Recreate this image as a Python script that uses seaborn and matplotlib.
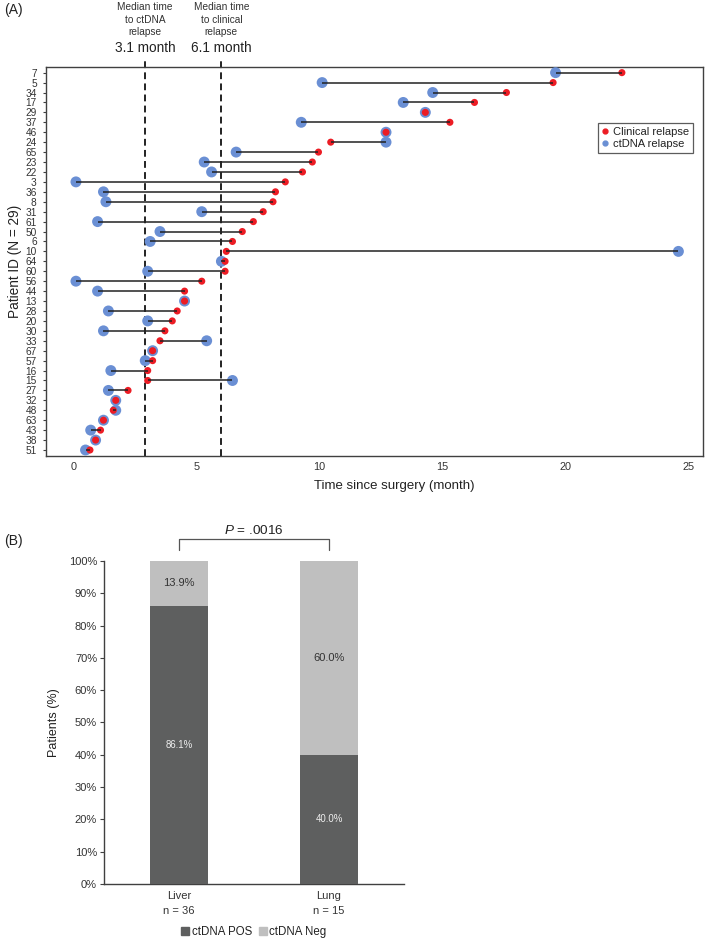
import numpy as np
import pandas as pd
import matplotlib
matplotlib.use("Agg")
import matplotlib.pyplot as plt
from matplotlib.lines import Line2D
from matplotlib.patches import Patch
import seaborn as sns

# ---- data (A): patient swimmer / dumbbell ----
patients = ["7", "5", "34", "17", "29", "37", "46", "24", "65", "23", "22", "3", "36",
            "8", "31", "61", "50", "6", "10", "64", "60", "56", "44", "13", "28", "20",
            "30", "33", "67", "57", "16", "15", "27", "32", "48", "63", "43", "38", "51"]
ctdna_month = [19.6, 10.1, 14.6, 13.4, 14.3, 9.25, 12.7, 12.7, 6.6, 5.3, 5.6, 0.08, 1.2,
               1.3, 5.2, 0.96, 3.5, 3.1, 24.6, 6.0, 3.0, 0.08, 0.96, 4.5, 1.4, 3.0,
               1.2, 5.4, 3.2, 2.9, 1.5, 6.45, 1.4, 1.7, 1.7, 1.2, 0.68, 0.88, 0.47]
clinical_month = [22.3, 19.5, 17.6, 16.3, 14.3, 15.3, 12.7, 10.45, 9.95, 9.7, 9.3, 8.6, 8.2,
                  8.1, 7.7, 7.3, 6.85, 6.45, 6.2, 6.15, 6.15, 5.2, 4.5, 4.5, 4.2, 4.0,
                  3.7, 3.5, 3.2, 3.2, 3.0, 3.0, 2.2, 1.7, 1.6, 1.2, 1.08, 0.88, 0.65]
median_ctdna_line = 2.9
median_clinical_line = 6.0
median_labels = [("Median time\nto ctDNA\nrelapse", "3.1 month"),
                 ("Median time\nto clinical\nrelapse", "6.1 month")]

# ---- data (B): stacked bars ----
sites = ["Liver\nn = 36", "Lung\nn = 15"]
ctdna_pos = [86.1, 40.0]
ctdna_neg = [13.9, 60.0]
p_text = "$P$ = .0016"

BLUE = "#6a8fd4"
RED = "#ec1c24"
DARK = "#5e5f5f"
LIGHT = "#bfbfbf"
AXC = "#404040"

sns.set_theme(style="white")
plt.rcParams["font.family"] = ["Liberation Sans", "DejaVu Sans"]
plt.rcParams["mathtext.fontset"] = "custom"
plt.rcParams["mathtext.it"] = "Liberation Sans:italic"
plt.rcParams["mathtext.rm"] = "Liberation Sans"
plt.rcParams["text.color"] = "#222222"

fig = plt.figure(figsize=(7.09, 9.38), dpi=100)

# ================= panel A =================
ax1 = fig.add_axes([0.0645, 0.5139, 0.927, 0.415])
df = pd.DataFrame({"patient": patients, "ctdna": ctdna_month, "clinical": clinical_month})
df["pos"] = np.arange(len(df))

sns.scatterplot(data=df, x="ctdna", y="pos", color=BLUE, s=62, edgecolor="none",
                ax=ax1, zorder=3, legend=False)
sns.scatterplot(data=df, x="clinical", y="pos", color=RED, s=26, edgecolor="none",
                ax=ax1, zorder=4, legend=False)
ax1.hlines(df["pos"], df["ctdna"], df["clinical"], color="#222222", lw=1.1, zorder=5)

for xv, (lab, med) in zip([median_ctdna_line, median_clinical_line], median_labels):
    ax1.axvline(xv, ymin=0, ymax=1.025, color="#222222", lw=1.4, ls=(0, (3.5, 2.2)),
                clip_on=False, zorder=2)
    tr = ax1.get_xaxis_transform()
    ax1.text(xv, 1.075, lab, transform=tr, ha="center", va="bottom", fontsize=7.3,
             linespacing=1.35, color="#333333")
    ax1.text(xv, 1.049, med, transform=tr, ha="center", va="center", fontsize=9.8,
             color="#222222")

ax1.set_xlim(-1.15, 25.6)
ax1.set_ylim(38.6, -0.6)
ax1.set_yticks(df["pos"])
ax1.set_yticklabels(patients)
ax1.set_xticks([0, 5, 10, 15, 20, 25])
ax1.tick_params(axis="y", which="both", left=True, length=2.5, width=0.8, color=AXC,
                labelsize=7.3, pad=4, labelcolor="#333333")
ax1.tick_params(axis="x", bottom=False, length=0, labelsize=7.8, pad=4,
                labelcolor="#333333")
for sp in ax1.spines.values():
    sp.set_color(AXC)
    sp.set_linewidth(1.0)
ax1.set_xlabel("Time since surgery (month)", fontsize=9.5, color="#222222", labelpad=4)
ax1.xaxis.set_label_coords(0.531, -0.062)
ax1.set_ylabel("Patient ID (N = 29)", fontsize=9.8, color="#222222", labelpad=2)

leg_handles = [Line2D([0], [0], marker="o", ls="none", color=RED, markersize=3.5,
                      label="Clinical relapse"),
               Line2D([0], [0], marker="o", ls="none", color=BLUE, markersize=3.5,
                      label="ctDNA relapse")]
leg = ax1.legend(handles=leg_handles, loc="upper right", bbox_to_anchor=(0.985, 0.855),
                 fontsize=8, frameon=True, fancybox=False, handlelength=0.6,
                 handletextpad=0.4, borderpad=0.35, labelspacing=0.15, borderaxespad=0)
leg.get_frame().set_edgecolor("#333333")
leg.get_frame().set_linewidth(0.9)

# ================= panel B =================
ax2 = fig.add_axes([0.1467, 0.0576, 0.4231, 0.3443])
bdf = pd.DataFrame({"site": sites, "pos": ctdna_pos, "neg": ctdna_neg})
bdf["total"] = bdf["pos"] + bdf["neg"]
sns.barplot(data=bdf, x="site", y="total", color=LIGHT, saturation=1, width=0.39,
            errorbar=None, linewidth=0, ax=ax2, zorder=2)
sns.barplot(data=bdf, x="site", y="pos", color=DARK, saturation=1, width=0.39,
            errorbar=None, linewidth=0, ax=ax2, zorder=3)

for i, row in bdf.iterrows():
    ax2.text(i, row["pos"] / 2, f"{row['pos']:.1f}%", ha="center", va="center",
             fontsize=6.9, color="#eeeeee", zorder=4)
    ax2.text(i, row["pos"] + row["neg"] / 2, f"{row['neg']:.1f}%", ha="center",
             va="center", fontsize=8, color="#333333", zorder=4)

ax2.set_xlim(-0.5, 1.5)
ax2.set_ylim(0, 100)
ax2.set_yticks(np.arange(0, 101, 10))
ax2.set_yticklabels([f"{v}%" for v in range(0, 101, 10)])
ax2.tick_params(axis="y", left=True, length=3, width=0.8, color=AXC, labelsize=8,
                pad=2, labelcolor="#333333")
ax2.tick_params(axis="x", bottom=False, length=0, labelsize=8, pad=5,
                labelcolor="#333333")
for t in ax2.get_xticklabels():
    t.set_linespacing(1.65)
ax2.set_xlabel("")
ax2.set_ylabel("Patients (%)", fontsize=9, color="#222222", labelpad=6)
sns.despine(ax=ax2)
for sp in ["left", "bottom"]:
    ax2.spines[sp].set_color(AXC)
    ax2.spines[sp].set_linewidth(1.0)

# significance bracket
ax2.plot([0, 0, 1, 1], [1.034, 1.068, 1.068, 1.034], color="#555555", lw=0.9,
         transform=ax2.get_xaxis_transform(), clip_on=False)
ax2.text(0.5, 1.096, p_text, transform=ax2.get_xaxis_transform(), ha="center",
         va="center", fontsize=9.7, color="#222222")

leg2 = ax2.legend(handles=[Patch(color=DARK, label="ctDNA POS"),
                           Patch(color=LIGHT, label="ctDNA Neg")],
                  loc="center", bbox_to_anchor=(0.5, -0.149), ncol=2, frameon=False,
                  fontsize=8.3, handlelength=0.7, handleheight=0.7, handletextpad=0.2,
                  columnspacing=0.6, borderaxespad=0)

fig.text(0.006, 1 - 10 / 938, "(A)", fontsize=10, va="center", ha="left")
fig.text(0.006, 1 - 541 / 938, "(B)", fontsize=10, va="center", ha="left")

fig.savefig("out.png", dpi=100)
